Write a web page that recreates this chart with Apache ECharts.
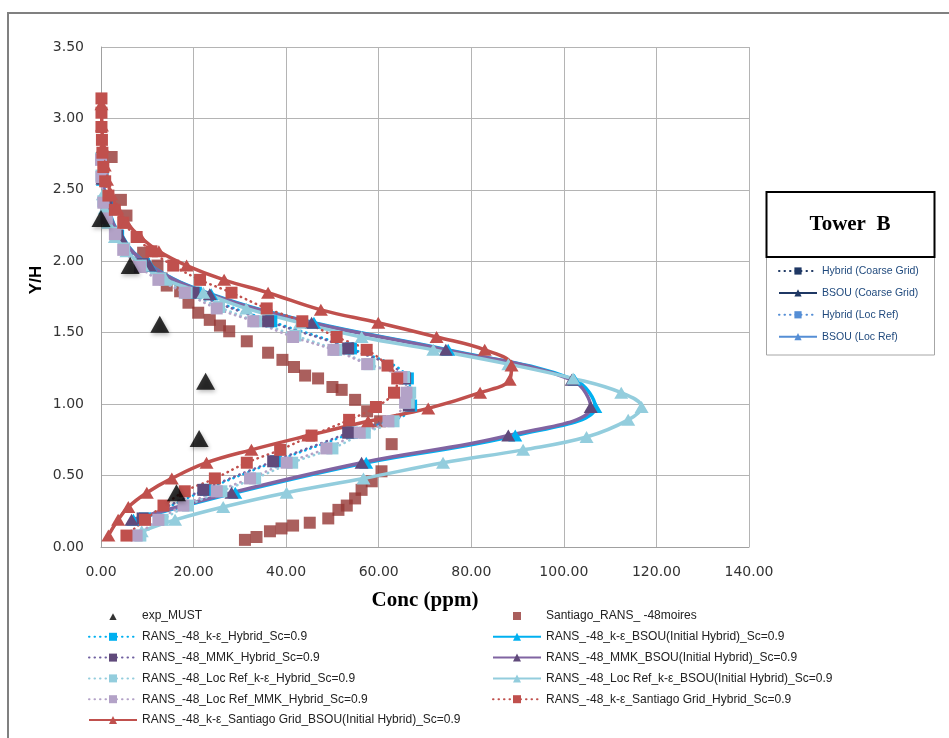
<!DOCTYPE html>
<html><head><meta charset="utf-8">
<script src="https://cdn.jsdelivr.net/npm/echarts@6/dist/echarts.min.js"></script>
<style>html,body{margin:0;padding:0;background:#fff;}#c{width:949px;height:738px;}</style>
</head><body><div id="c"></div>
<script>
// ---- axis ticks ----
const xTickMin = 0, xTickMax = 140, xTickStep = 20;
const yTickMin = 0, yTickMax = 3.5, yTickStep = 0.5;

// ---- series names ----
const nameExp = 'exp_MUST';
const nameSant = 'Santiago_RANS_ -48moires';
const nameKeHyb = 'RANS_-48_k-ε_Hybrid_Sc=0.9';
const nameKeBsou = 'RANS_-48_k-ε_BSOU(Initial Hybrid)_Sc=0.9';
const nameMmkHyb = 'RANS_-48_MMK_Hybrid_Sc=0.9';
const nameMmkBsou = 'RANS_-48_MMK_BSOU(Initial Hybrid)_Sc=0.9';
const nameLrKeHyb = 'RANS_-48_Loc Ref_k-ε_Hybrid_Sc=0.9';
const nameLrKeBsou = 'RANS_-48_Loc Ref_k-ε_BSOU(Initial Hybrid)_Sc=0.9';
const nameLrMmkHyb = 'RANS_-48_Loc Ref_MMK_Hybrid_Sc=0.9';
const nameSgHyb = 'RANS_-48_k-ε_Santiago Grid_Hybrid_Sc=0.9';
const nameSgBsou = 'RANS_-48_k-ε_Santiago Grid_BSOU(Initial Hybrid)_Sc=0.9';
const towerNames = ['Hybrid (Coarse Grid)', 'BSOU (Coarse Grid)', 'Hybrid (Loc Ref)', 'BSOU (Loc Ref)'];

// ---- data: [Conc (ppm), Y/H] ----
const expMust = [[0,2.30],[6.3,1.97],[12.7,1.56],[22.6,1.16],[21.2,0.76],[16.3,0.38]];

const santiagoRans = [[2.3,2.73],[4.3,2.43],[5.5,2.32],[9.1,2.06],[12.2,1.97],[13.1,1.88],[14.2,1.83],[17.1,1.79],[18.9,1.71],[21,1.64],[23.5,1.59],[25.7,1.55],[27.7,1.51],[31.5,1.44],[36.1,1.36],[39.2,1.31],[41.7,1.26],[44.1,1.20],[46.9,1.18],[50,1.12],[52,1.10],[54.9,1.03],[57.5,0.95],[60.3,0.88],[62.8,0.72],[60.6,0.53],[58.5,0.46],[56.3,0.40],[54.9,0.34],[53.1,0.29],[51.3,0.26],[49.1,0.20],[45.1,0.17],[41.5,0.15],[39,0.13],[36.5,0.11],[33.6,0.07],[31.1,0.05]];

const keHybrid = [[0.3,2.58],[1.3,2.38],[3.7,2.18],[9.3,1.98],[20.5,1.78],[36.8,1.58],[54,1.39],[66.3,1.18],[67,0.99],[54.2,0.80],[37.8,0.60],[22.6,0.40],[9.5,0.20]];
const keBsou = [[0.4,2.57],[1.6,2.37],[4.4,2.17],[10.6,1.97],[23.8,1.77],[46,1.57],[75,1.38],[102.3,1.17],[106.8,0.98],[89.5,0.78],[57.3,0.59],[29,0.38],[7,0.19]];
const mmkHybrid = [[0.3,2.58],[1.2,2.38],[3.5,2.18],[9,1.98],[20,1.78],[36.1,1.58],[53.4,1.39],[65.7,1.18],[66.5,0.99],[53.4,0.80],[37.2,0.60],[22.1,0.40],[9,0.20]];
const mmkBsou = [[0.3,2.58],[1.5,2.37],[4.3,2.17],[10.5,1.97],[23.5,1.77],[45.5,1.57],[74.5,1.38],[101.7,1.17],[105.8,0.98],[88,0.78],[56.3,0.59],[28.2,0.38],[6.6,0.19]];
const lrKeHybrid = [[0,2.72],[0.1,2.60],[0.5,2.42],[1.2,2.31],[3.1,2.20],[5,2.09],[8.6,1.97],[12.8,1.88],[18.5,1.78],[25.5,1.68],[33.5,1.58],[42,1.48],[50.8,1.38],[58,1.28],[65.5,1.19],[66.8,1.08],[66.5,1.01],[63.2,0.88],[57,0.80],[50,0.69],[41.3,0.59],[33.3,0.48],[26,0.39],[18.8,0.29],[13.3,0.19],[8.5,0.08]];
const lrKeBsou = [[0.4,2.47],[0.8,2.37],[1.5,2.27],[3,2.17],[5.5,2.07],[9,1.97],[14,1.87],[22.1,1.78],[31.4,1.67],[43,1.57],[56.3,1.47],[71.8,1.38],[88,1.28],[102,1.18],[112.4,1.08],[116.8,0.98],[113.9,0.89],[104.9,0.77],[91.2,0.68],[73.9,0.59],[56.7,0.48],[40.1,0.38],[26.4,0.28],[16,0.19],[8.8,0.11]];
const lrMmkHybrid = [[0,2.71],[0.1,2.59],[0.5,2.41],[1.2,2.30],[3,2.19],[4.8,2.08],[8.4,1.96],[12.4,1.87],[18.1,1.78],[25,1.67],[32.9,1.58],[41.5,1.47],[50.2,1.38],[57.5,1.28],[64.9,1.19],[66,1.08],[65.7,1.01],[62.1,0.88],[55.9,0.80],[48.7,0.69],[40.1,0.59],[32.2,0.48],[25,0.39],[17.8,0.29],[12.4,0.19],[7.7,0.08]];
const sgHybrid = [[0.1,3.14],[0.1,3.04],[0.1,2.94],[0.2,2.85],[0.3,2.76],[0.5,2.66],[0.9,2.56],[1.6,2.46],[3,2.36],[4.8,2.27],[7.7,2.17],[10.9,2.07],[15.6,1.97],[21.4,1.87],[28.2,1.78],[35.8,1.67],[43.5,1.58],[50.9,1.47],[57.4,1.38],[61.9,1.27],[64,1.18],[63.3,1.08],[59.4,0.98],[53.6,0.89],[45.5,0.78],[38.7,0.68],[31.5,0.59],[24.6,0.48],[18.1,0.39],[13.5,0.29],[9.5,0.19],[5.5,0.08]];
const sgBsou = [[0.1,3.1],[0.2,2.95],[0.4,2.8],[0.8,2.67],[1.3,2.57],[2.2,2.47],[3.5,2.37],[5.5,2.27],[8.5,2.17],[12.5,2.07],[18.5,1.97],[26.6,1.87],[36.1,1.78],[47.5,1.66],[59.9,1.57],[72.5,1.47],[82.9,1.38],[88.7,1.27],[88.3,1.17],[81.9,1.08],[70.7,0.97],[57.7,0.88],[44.8,0.78],[32.5,0.68],[22.8,0.59],[15.3,0.48],[9.9,0.38],[5.9,0.28],[3.7,0.19],[1.6,0.08]];

// ---- build ----
const DOT = [0.5, 5];
const ICON_TRI = 'path://M0,0M11,11M1.5,10L5.5,2.5L9.5,10Z';
const ICON_SQ = 'path://M0,0M10,10M1,1L9,1L9,9L1,9Z';
function dotted(name, data, color, mcolor) {
  return { name, type: 'line', data, smooth: 0.4, symbol: 'rect', symbolSize: 12,
    lineStyle: { color, width: 2.5, type: DOT, cap: 'round' },
    itemStyle: { color: mcolor || color }, emphasis: { disabled: true } };
}
function solid(name, data, color, mcolor) {
  return { name, type: 'line', data, smooth: 0.4, symbol: 'triangle', symbolSize: [14, 12],
    lineStyle: { color, width: 3.5 },
    itemStyle: { color: mcolor || color }, emphasis: { disabled: true } };
}
const series = [
  { name: nameExp, type: 'scatter', data: expMust, symbol: 'triangle', symbolSize: [19, 17], z: 5,
    itemStyle: { color: '#000', shadowBlur: 4, shadowColor: 'rgba(0,0,0,0.35)', shadowOffsetX: 1, shadowOffsetY: 2 } },
  { name: nameSant, type: 'scatter', data: santiagoRans, symbol: 'rect', symbolSize: 12, itemStyle: { color: '#953735' } },
  dotted(nameKeHyb, keHybrid, '#00B0F0'),
  solid(nameKeBsou, keBsou, '#00B0F0'),
  dotted(nameMmkHyb, mmkHybrid, '#7060A0', '#604A7B'),
  solid(nameMmkBsou, mmkBsou, '#8064A2', '#604A7B'),
  dotted(nameLrKeHyb, lrKeHybrid, '#93CDDD'),
  solid(nameLrKeBsou, lrKeBsou, '#93CDDD'),
  dotted(nameLrMmkHyb, lrMmkHybrid, '#B3A2C7'),
  dotted(nameSgHyb, sgHybrid, '#C0504D'),
  solid(nameSgBsou, sgBsou, '#C0504D'),
  // legend-only entries for the Tower B key
  { name: towerNames[0], type: 'line', data: [], symbol: 'rect', lineStyle: { color: '#1F3864', width: 2.5, type: DOT, cap: 'round' }, itemStyle: { color: '#1F3864' } },
  { name: towerNames[1], type: 'line', data: [], symbol: 'triangle', lineStyle: { color: '#1F3864', width: 3.5 }, itemStyle: { color: '#1F3864' } },
  { name: towerNames[2], type: 'line', data: [], symbol: 'rect', lineStyle: { color: '#558ED5', width: 2.5, type: DOT, cap: 'round' }, itemStyle: { color: '#558ED5' } },
  { name: towerNames[3], type: 'line', data: [], symbol: 'triangle', lineStyle: { color: '#558ED5', width: 3.5 }, itemStyle: { color: '#558ED5' } }
];

const legendText = { fontFamily: 'Liberation Sans', fontSize: 12, color: '#222', lineHeight: 14 };
const option = {
  animation: false,
  backgroundColor: '#fff',
  grid: { left: 101, top: 47, width: 648, height: 500 },
  xAxis: {
    type: 'value', min: xTickMin, max: xTickMax, interval: xTickStep,
    name: 'Conc (ppm)', nameLocation: 'middle', nameGap: 43,
    nameTextStyle: { fontFamily: 'Liberation Serif', fontWeight: 'bold', fontSize: 21, color: '#000' },
    axisLine: { show: true, lineStyle: { color: '#a0a0a0', width: 1 } },
    axisTick: { show: false },
    axisLabel: { formatter: v => v.toFixed(2), fontFamily: 'DejaVu Sans', fontSize: 14, color: '#333', margin: 18 },
    splitLine: { show: true, lineStyle: { color: '#b4b4b4', width: 1 } }
  },
  yAxis: {
    type: 'value', min: yTickMin, max: yTickMax, interval: yTickStep,
    name: 'Y/H', nameLocation: 'middle', nameGap: 56, nameRotate: 90, nameMoveOverlap: false,
    nameTextStyle: { fontFamily: 'Liberation Sans', fontWeight: 'bold', fontSize: 17, color: '#000', padding: [0, 0, 0, 34] },
    axisLine: { show: true, lineStyle: { color: '#a0a0a0', width: 1 } },
    axisTick: { show: false },
    axisLabel: { formatter: v => v.toFixed(2), fontFamily: 'DejaVu Sans', fontSize: 14, color: '#333', margin: 17 },
    splitLine: { show: true, lineStyle: { color: '#b4b4b4', width: 1 } }
  },
  legend: [
    { data: [{ name: nameExp, icon: ICON_TRI }, nameKeHyb, nameMmkHyb, nameLrKeHyb, nameLrMmkHyb, nameSgBsou],
      orient: 'vertical', left: 88, top: 609, itemWidth: 48, itemHeight: 10, itemGap: 6.8,
      selectedMode: false, textStyle: legendText, padding: 0 },
    { data: [{ name: nameSant, icon: ICON_SQ }, nameKeBsou, nameMmkBsou, nameLrKeBsou, nameSgHyb],
      orient: 'vertical', left: 492, top: 609, itemWidth: 48, itemHeight: 10, itemGap: 6.8,
      selectedMode: false, textStyle: legendText, padding: 0 },
    { data: towerNames, orient: 'vertical', left: 778, top: 264.5, itemWidth: 38, itemHeight: 9, itemGap: 8.9,
      selectedMode: false, padding: 0,
      textStyle: { fontFamily: 'Liberation Sans', fontSize: 10.5, color: '#1F497D', lineHeight: 13 } }
  ],
  graphic: [
    { type: 'rect', silent: true, z: -1, shape: { x: 8, y: 13, width: 1000, height: 800 }, style: { fill: 'none', stroke: '#808080', lineWidth: 2 } },
    { type: 'rect', silent: true, shape: { x: 766.5, y: 257, width: 168, height: 98 }, style: { fill: '#fff', stroke: '#a6a6a6', lineWidth: 1 }, z: -1 },
    { type: 'rect', silent: true, shape: { x: 766.5, y: 192, width: 168, height: 65 }, style: { fill: '#fff', stroke: '#000', lineWidth: 2 } },
    { type: 'text', silent: true, x: 850, y: 225, style: { text: 'Tower  B', fontFamily: 'Liberation Serif', fontWeight: 'bold', fontSize: 21, fill: '#000', align: 'center', verticalAlign: 'middle' } }
  ],
  series
};
const chart = echarts.init(document.getElementById('c'), null, { renderer: 'canvas' });
chart.setOption(option);
</script>
</body></html>
